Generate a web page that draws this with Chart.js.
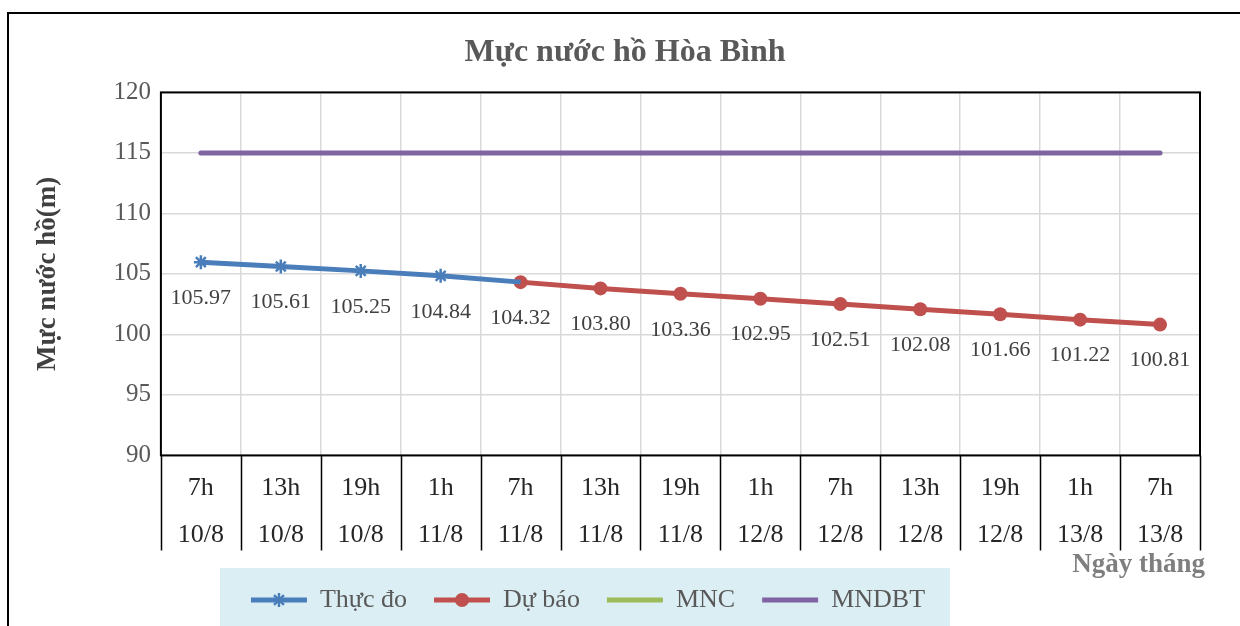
<!DOCTYPE html>
<html>
<head>
<meta charset="utf-8">
<script src="https://cdn.jsdelivr.net/npm/chart.js@4"></script>
<style>
html,body{margin:0;padding:0;background:#fff;overflow:hidden}
#wrap{position:relative;width:1240px;height:626px}
#frame{position:absolute;left:7px;top:12px;width:1300px;height:700px;border:2px solid #000}
canvas{position:absolute;left:0;top:0}
</style>
</head>
<body>
<div id="wrap"><div id="frame"></div><canvas id="lakeChart" width="1240" height="626"></canvas></div>
<script>
// axis labels (two rows: hour / day)
const hours = ['7h','13h','19h','1h','7h','13h','19h','1h','7h','13h','19h','1h','7h'];
const days  = ['10/8','10/8','10/8','11/8','11/8','11/8','11/8','12/8','12/8','12/8','12/8','13/8','13/8'];
// series
const thucDo = [105.97,105.61,105.25,104.84,104.32,null,null,null,null,null,null,null,null];
const duBao  = [null,null,null,null,104.32,103.80,103.36,102.95,102.51,102.08,101.66,101.22,100.81];
const mnc    = [80,80,80,80,80,80,80,80,80,80,80,80,80];
const mndbt  = [115,115,115,115,115,115,115,115,115,115,115,115,115];
// y ticks
const yMin = 90, yMax = 120, yStep = 5;
const xTitle = 'Ngày tháng';

const serif = '"Liberation Serif", "Times New Roman", serif';
const BLUE = '#4a7ebb', RED = '#c0504d', GREEN = '#9bbb59', PURPLE = '#8064a2';

//value labels under the points
const valueLabels = {
    id:'valueLabels',
    afterDatasetsDraw(chart){
        const ctx = chart.ctx, done = {};
        ctx.save();
        ctx.font = '22px ' + serif;
        ctx.fillStyle = '#404040';
        ctx.textAlign = 'center';
        ctx.textBaseline = 'middle';
        [0,1].forEach(di=>{
            const data = chart.data.datasets[di].data;
            chart.getDatasetMeta(di).data.forEach((pt,i)=>{
                if(data[i] == null || done[i]) return;
                done[i] = true;
                ctx.fillText(data[i].toFixed(2), pt.x, pt.y + 36);
            });
        });
        ctx.restore();
    }
};

//plot border, table lines under the axis, legend background + legend markers
const decor = {
    id:'decor',
    afterLayout(chart){
        // legend a bit left of centre and tucked under the labels, title a bit right, like the original
        chart.legend.right -= 44;
        chart.legend.top -= 8;
        chart.legend.bottom -= 8;
        chart.titleBlock.left += 30;
    },
    beforeDraw(chart){
        const boxes = chart.legend.legendHitBoxes, ctx = chart.ctx;
        if(!boxes || !boxes.length) return;
        const first = boxes[0], last = boxes[boxes.length-1];
        const left = first.left - 31, right = last.left + last.width + 25;
        ctx.save();
        ctx.fillStyle = '#dbeef4';
        ctx.fillRect(left, first.top + first.height/2 - 32, right - left, chart.height);
        ctx.restore();
    },
    afterDraw(chart){
        const ctx = chart.ctx, a = chart.chartArea, x = chart.scales.x;
        ctx.save();
        // separators between the category labels
        ctx.strokeStyle = '#000';
        ctx.lineWidth = 1.5;
        ctx.beginPath();
        for(let i = 0; i <= hours.length; i++){
            let px;
            if(i == 0) px = a.left;
            else if(i == hours.length) px = a.right;
            else px = (x.getPixelForValue(i-1) + x.getPixelForValue(i)) / 2;
            px = Math.round(px) + 0.5;
            ctx.moveTo(px, a.bottom);
            ctx.lineTo(px, a.bottom + 95);
        }
        ctx.stroke();
        ctx.lineWidth = 2;
        ctx.strokeRect(a.left, a.top, a.right - a.left, a.bottom - a.top);
        // x axis title, bottom right
        ctx.font = 'bold 27px ' + serif;
        ctx.fillStyle = '#7f7f7f';
        ctx.textAlign = 'right';
        ctx.textBaseline = 'middle';
        ctx.fillText(xTitle, a.right + 5, a.bottom + 110);
        // markers on the legend lines
        const boxes = chart.legend.legendHitBoxes, bw = chart.legend.options.labels.boxWidth;
        chart.data.datasets.forEach((ds,i)=>{
            if(!ds.legendMarker || !boxes[i]) return;
            const b = boxes[i], cx = b.left + bw/2, cy = b.top + b.height/2;
            ctx.fillStyle = ds.borderColor;
            ctx.strokeStyle = ds.borderColor;
            if(ds.legendMarker == 'circle'){
                ctx.beginPath();
                ctx.arc(cx, cy, 7, 0, Math.PI*2);
                ctx.fill();
            }else{
                ctx.lineWidth = 2.5;
                Chart.helpers.drawPoint(ctx, {pointStyle:'star', radius:7, borderWidth:2.5}, cx, cy);
            }
        });
        ctx.restore();
    }
};

const labels = hours.map((h,i)=>[h, days[i]]);

const chart = new Chart(document.getElementById('lakeChart'), {
    type:'line',
    data:{
        labels: labels,
        datasets:[{
            label:'Thực đo',
            data: thucDo,
            borderColor: BLUE, backgroundColor: BLUE,
            borderWidth: 5,
            pointStyle:'star', pointRadius:[7,7,7,7,0,0,0,0,0,0,0,0,0],
            pointBorderWidth: 2.5, pointBorderColor: BLUE,
            legendMarker:'star'
        },{
            label:'Dự báo',
            data: duBao,
            borderColor: RED, backgroundColor: RED,
            borderWidth: 5,
            pointStyle:'circle', pointRadius: 7,
            pointBorderWidth: 0,
            legendMarker:'circle'
        },{
            label:'MNC',
            data: mnc,
            borderColor: GREEN, backgroundColor: GREEN,
            borderWidth: 5, pointRadius: 0
        },{
            label:'MNDBT',
            data: mndbt,
            borderColor: PURPLE, backgroundColor: PURPLE,
            borderWidth: 5, pointRadius: 0, borderCapStyle:'round'
        }]
    },
    options:{
        responsive:false,
        animation:false,
        layout:{padding:{left:20, right:40, top:10, bottom:-5}},
        plugins:{
            title:{
                display:true,
                text:'Mực nước hồ Hòa Bình',
                color:'#595959',
                font:{family:serif, size:32, weight:'bold'},
                padding:{top:24, bottom:20}
            },
            legend:{
                position:'bottom',
                labels:{
                    boxWidth:56, boxHeight:5,
                    color:'#595959',
                    font:{family:serif, size:26},
                    padding:27,
                    generateLabels:(c)=>Chart.defaults.plugins.legend.labels.generateLabels(c)
                        .map(it=>Object.assign(it, {fillStyle: it.strokeStyle, lineWidth: 0}))
                }
            },
            tooltip:{enabled:false}
        },
        scales:{
            x:{
                offset:true,
                grid:{offset:true, color:'#d9d9d9', lineWidth:1.5, drawTicks:false},
                border:{display:false},
                ticks:{
                    color:'#262626', padding:9.5, maxRotation:0, autoSkip:false,
                    font:{family:serif, size:26, lineHeight:1.8}
                }
            },
            y:{
                min:yMin, max:yMax,
                grid:{color:'#d9d9d9', lineWidth:1.5, drawTicks:false},
                border:{display:false},
                ticks:{
                    stepSize:yStep, padding:10, color:'#595959',
                    font:{family:serif, size:25}
                },
                title:{
                    display:true, text:'Mực nước hồ(m)',
                    color:'#404040', font:{family:serif, size:27, weight:'bold'},
                    padding:{top:12, bottom:39}
                }
            }
        }
    },
    plugins:[valueLabels, decor]
});
</script>
</body>
</html>
